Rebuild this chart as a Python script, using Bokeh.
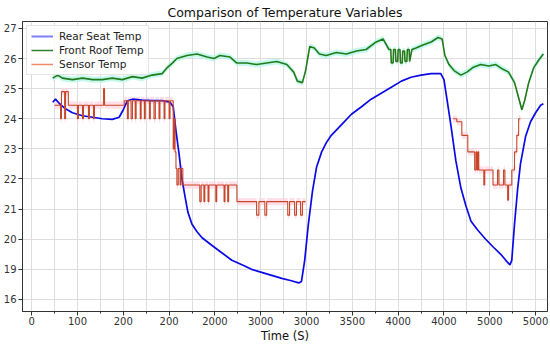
from bokeh.plotting import figure
from bokeh.models import FixedTicker, Legend, LegendItem, Range1d
from bokeh.embed import file_html
from bokeh.resources import INLINE

# ---------------- data ----------------
x_ticks = [0, 100, 200, 300, 400, 500, 600, 700, 800, 900, 1000, 1100]
x_minor = [50, 150, 250, 350, 450, 550, 650, 750, 850, 950, 1050]
x_tick_labels = ["0", "100", "200", "200", "2000", "3000", "3000", "3500", "4000", "4000", "5000", "5000"]
y_ticks = [18, 19, 20, 21, 22, 23, 24, 25, 26, 27]
y_tick_labels = ["16", "19", "20", "21", "22", "23", "24", "25", "26", "27"]

blue_x = [46, 52, 61, 72, 89, 111, 133, 154, 176, 191, 200, 209, 220, 241, 263, 285, 302, 309, 315, 322,
          328, 335, 341, 350, 361, 372, 393, 415, 437, 459, 480, 502, 524, 546, 567, 583, 589, 596, 604, 613,
          622, 633, 643, 654, 676, 698, 720, 741, 763, 785, 807, 828, 850, 872, 893, 900, 907, 915, 926, 937,
          948, 959, 974, 991, 1007, 1024, 1035, 1044, 1048, 1054, 1061, 1067, 1078, 1089, 1100, 1111, 1117]
blue_y = [24.55, 24.65, 24.5, 24.35, 24.2, 24.1, 24.05, 24.0, 23.98, 24.05, 24.3, 24.6, 24.65, 24.62, 24.6, 24.6, 24.55, 24.4, 23.6, 22.8,
          22.0, 21.4, 20.9, 20.5, 20.25, 20.05, 19.8, 19.55, 19.3, 19.15, 19.0, 18.9, 18.8, 18.7, 18.62, 18.55, 18.6, 19.3, 20.5, 21.6,
          22.4, 22.9, 23.2, 23.45, 23.8, 24.15, 24.4, 24.65, 24.85, 25.05, 25.25, 25.38, 25.45, 25.5, 25.5, 25.3, 24.6, 23.8, 22.6, 21.7,
          21.1, 20.6, 20.3, 20.0, 19.75, 19.5, 19.3, 19.15, 19.3, 20.5, 21.7, 22.5, 23.4, 23.9, 24.2, 24.45, 24.5]

green_x = [46, 57, 67, 89, 111, 133, 154, 176, 198, 220, 241, 263, 285, 296, 307, 317, 339, 361, 383, 398,
           411, 433, 448, 470, 491, 513, 535, 557, 572, 580, 591, 598, 607, 617, 628, 643, 665, 687, 709, 730,
           752, 767, 780, 784, 785, 789, 790, 794, 795, 799, 800, 804, 805, 809, 810, 814, 815, 819, 820, 824,
           825, 830, 839, 854, 872, 887, 896, 902, 911,
           922, 937, 950, 963, 980, 998, 1013, 1028, 1041, 1054, 1063, 1070, 1076, 1085, 1096, 1107, 1117]
green_y = [25.35, 25.45, 25.35, 25.3, 25.35, 25.3, 25.3, 25.35, 25.3, 25.4, 25.35, 25.45, 25.5, 25.7, 25.85, 26.0, 26.1, 26.15, 26.05, 26.0,
           26.1, 26.05, 25.85, 25.85, 25.8, 25.85, 25.9, 25.8, 25.55, 25.25, 25.2, 25.6, 26.4, 26.35, 26.15, 26.1, 26.2, 26.15, 26.25, 26.3,
           26.55, 26.65, 26.3, 26.3, 25.85, 25.85, 26.3, 26.3, 25.9, 25.9, 26.3, 26.3, 25.85, 25.85, 26.25, 26.25, 25.9, 25.9, 26.3, 26.3,
           25.9, 26.3, 26.35, 26.45, 26.55, 26.7, 26.65, 26.1, 25.8,
           25.6, 25.45, 25.55, 25.7, 25.8, 25.75, 25.8, 25.65, 25.55, 25.2, 24.7, 24.3, 24.6, 25.2, 25.7, 25.95, 26.15]

red1_x = [50, 63, 65, 72, 74, 80, 100, 102, 111, 113, 124, 126, 135, 137, 157, 159,
          202, 209, 211, 217, 220, 226, 228, 237, 239, 246, 248, 257, 259, 267, 270, 278, 280, 289, 291, 300, 302,
          309, 311, 313, 315, 317, 320, 324, 326, 330,
          367, 370, 376, 378, 385, 387, 402, 404, 420, 422, 428, 430, 448,
          491, 496, 509, 513, 559, 563, 574, 578, 587, 591, 598]
red1_y = [24.45, 24.0, 24.9, 24.0, 24.9, 24.45, 24.0, 24.45, 24.0, 24.45, 24.0, 24.45, 24.0, 24.45, 25.0, 24.45,
          24.6, 24.0, 24.6, 24.0, 24.6, 24.0, 24.6, 24.0, 24.6, 24.0, 24.6, 24.0, 24.6, 24.0, 24.6, 24.0, 24.6, 24.0, 24.6, 24.0, 24.6,
          23.0, 24.0, 22.9, 22.35, 21.8, 22.35, 21.8, 22.35, 21.8,
          21.25, 21.8, 21.25, 21.8, 21.25, 21.8, 21.25, 21.8, 21.25, 21.8, 21.25, 21.8, 21.25,
          20.8, 21.25, 20.8, 21.25, 20.8, 21.25, 20.8, 21.25, 20.8, 21.25, 21.25]

red2_x = [920, 928, 939, 952, 967, 970, 972, 974, 976, 987, 989, 1007, 1017, 1020, 1030, 1033, 1039, 1041, 1048, 1054, 1059, 1063, 1067]
red2_y = [24.0, 23.9, 23.45, 22.9, 22.3, 22.9, 22.3, 22.9, 22.3, 21.8, 22.3, 21.8, 22.3, 21.8, 22.3, 21.8, 21.3, 21.8, 22.3, 22.9, 23.45, 24.0, 24.0]


def step_vertices(xs, ys):
    vx, vy = [], []
    for i in range(len(xs) - 1):
        vx += [xs[i], xs[i + 1]]
        vy += [ys[i], ys[i]]
    vx.append(xs[-1])
    vy.append(ys[-1])
    return vx, vy


FONT = "DejaVu Sans"

p = figure(width=550, height=345, output_backend="svg", toolbar_location=None,
           x_range=Range1d(-20, 1126), y_range=Range1d(17.6, 27.23),
           title="Comparison of Temperature Variables",
           min_border_left=0, min_border_right=3, min_border_top=0, min_border_bottom=0)

p.title.text_font = FONT
p.title.text_font_size = "12.5px"
p.title.text_font_style = "normal"
p.title.align = "center"
p.title.text_color = "#111111"
p.title.standoff = 4
p.title.offset = 0

p.background_fill_color = "white"
p.border_fill_color = "white"
p.outline_line_color = "#333333"
p.outline_line_width = 1

# axes
p.xaxis.ticker = FixedTicker(ticks=x_ticks, minor_ticks=x_minor)
p.xaxis.major_label_overrides = {t: l for t, l in zip(x_ticks, x_tick_labels)}
p.yaxis.ticker = FixedTicker(ticks=y_ticks, minor_ticks=[])
p.yaxis.major_label_overrides = {t: l for t, l in zip(y_ticks, y_tick_labels)}
p.xaxis.axis_label = "Time (S)"
for ax in (p.xaxis, p.yaxis):
    ax.major_label_text_font = FONT
    ax.major_label_text_font_size = "10px"
    ax.major_label_text_color = "#333333"
    ax.axis_line_color = "#333333"
    ax.major_tick_line_color = "#333333"
    ax.minor_tick_line_color = "#333333"
    ax.major_tick_out = 4
    ax.major_tick_in = 0
    ax.minor_tick_out = 2
    ax.minor_tick_in = 0
    ax.major_label_standoff = 2
p.xaxis.major_label_standoff = 1
p.xaxis.axis_label_text_font = FONT
p.xaxis.axis_label_text_font_size = "11.5px"
p.xaxis.axis_label_text_font_style = "normal"
p.xaxis.axis_label_text_color = "#111111"
p.xaxis.axis_label_standoff = 1

p.xgrid.grid_line_color = "#dddddd"
p.xgrid.minor_grid_line_color = "#dddddd"
p.ygrid.grid_line_color = "#dddddd"

# halos
p.varea(x=green_x, y1=[v - 0.1 for v in green_y], y2=[v + 0.1 for v in green_y],
        fill_color="#b5f7e8", fill_alpha=0.8)
for rx, ry in ((red1_x, red1_y), (red2_x, red2_y)):
    sx, sy = step_vertices(rx, ry)
    p.varea(x=sx, y1=[v - 0.12 for v in sy], y2=[v + 0.12 for v in sy],
            fill_color="#ffd3df", fill_alpha=0.7)

# lines
p.line(blue_x, blue_y, line_color="#0a0ae6", line_width=1.7)
p.line(green_x, green_y, line_color="#237a1a", line_width=1.6)
for rx, ry in ((red1_x, red1_y), (red2_x, red2_y)):
    sx, sy = step_vertices(rx, ry)
    p.line(sx, sy, line_color="#c8452a", line_width=1.1)

# legend swatches (lighter, like the reference); drawn off-range so only the legend shows them
off_x = [-900, -800]
off_y = [20, 20]
lb = p.line(off_x, off_y, line_color="#7f7ff5", line_width=2)
lg = p.line(off_x, off_y, line_color="#2f7f2f", line_width=1.5)
lr = p.line(off_x, off_y, line_color="#ee8a6a", line_width=1.5)
legend = Legend(items=[LegendItem(label="Rear Seat Temp", renderers=[lb]),
                       LegendItem(label="Front Roof Temp", renderers=[lg]),
                       LegendItem(label="Sensor Temp", renderers=[lr])],
                location="top_left")
legend.label_text_font = FONT
legend.label_text_font_size = "10.5px"
legend.label_text_color = "#222222"
legend.glyph_width = 22
legend.glyph_height = 12
legend.label_height = 12
legend.label_standoff = 6
legend.spacing = 2
legend.padding = 4
legend.margin = 4
legend.border_line_color = "#cccccc"
legend.background_fill_alpha = 0.85
p.add_layout(legend)

open("out.html", "w").write(file_html(p, INLINE))
